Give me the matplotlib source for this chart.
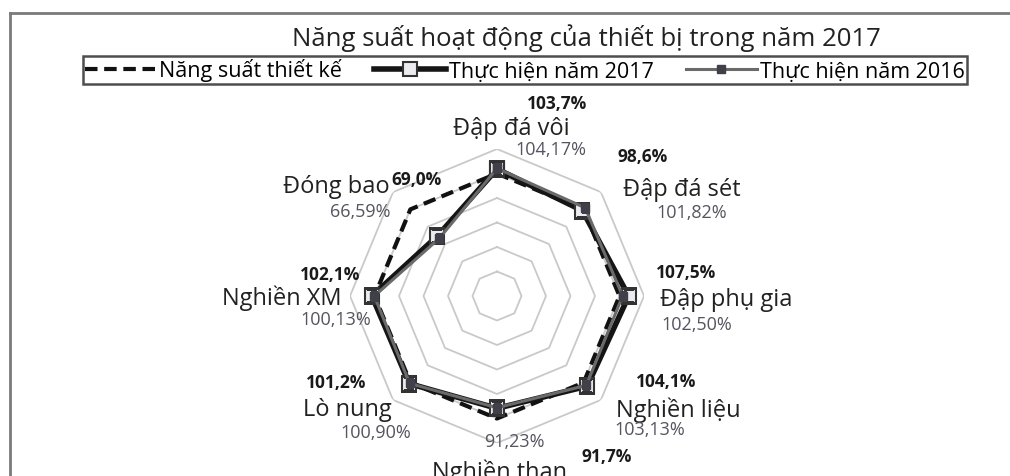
import numpy as np
import matplotlib
matplotlib.use("Agg")
from matplotlib import pyplot as plt
from matplotlib.lines import Line2D

plt.rcParams["font.family"] = ["Open Sans", "DejaVu Sans"]

W, H = 1010, 477

categories = ["Đập đá vôi", "Đập đá sét", "Đập phụ gia", "Nghiền liệu",
              "Nghiền than", "Lò nung", "Nghiền XM", "Đóng bao"]
design = [100, 100, 100, 100, 100, 100, 100, 100]
actual_2017 = [103.7, 98.6, 107.5, 104.1, 91.7, 101.2, 102.1, 69.0]
actual_2016 = [104.17, 101.82, 102.50, 103.13, 91.23, 100.90, 100.13, 66.59]
labels_2017 = ["103,7%", "98,6%", "107,5%", "104,1%", "91,7%", "101,2%", "102,1%", "69,0%"]
labels_2016 = ["104,17%", "101,82%", "102,50%", "103,13%", "91,23%", "100,90%", "100,13%", "66,59%"]
rings = [20, 40, 60, 80, 100, 120]

# label centres in pixels (category, 2017 value, 2016 value)
cat_pos = [(511, 129), (682, 190), (726, 300), (678, 410), (500, 472), (347, 410), (282, 298), (336, 187)]
v17_pos = [(557, 104), (643, 157), (686, 273), (666, 382), (607, 457), (336, 383), (330, 275), (416, 180)]
v16_pos = [(551, 150), (692, 213), (697, 325), (650, 430), (514, 442), (376, 433), (336, 320), (360, 212)]


def px(x, y):
    return x / W, 1 - y / H


fig = plt.figure(figsize=(W / 100, H / 100), dpi=100)

# chart border (cropped document chart)
fig.add_artist(Line2D([10 / W, 1.0], [1 - 14 / H] * 2, color="#7a7a7a", lw=2))
fig.add_artist(Line2D([10 / W] * 2, [0, 1 - 14 / H], color="#7a7a7a", lw=2))

cx, cy, R = 497, 297, 147
l, b = px(cx - R, cy + R)
ax = fig.add_axes([l, b, 2 * R / W, 2 * R / H], projection="polar")
ax.set_theta_zero_location("N")
ax.set_theta_direction(-1)
ax.set_ylim(0, 120)
ax.axis("off")

theta = np.linspace(0, 2 * np.pi, len(categories), endpoint=False)
tc = np.append(theta, theta[0])

for r in rings:
    ax.plot(tc, [r] * len(tc), color="#c9c9c9", lw=1.3, zorder=1)


def closed(v):
    return list(v) + [v[0]]


ax.plot(tc, closed(design), color="#111111", lw=3, ls=(0, (3, 1.6)), zorder=3)
ax.plot(tc, closed(actual_2017), color="#151515", lw=4, marker="s", ms=10,
        mfc="#ececf0", mec="#333333", mew=1.5, zorder=4)
ax.plot(tc, closed(actual_2016), color="#6a6a6a", lw=2.2, marker="s", ms=6,
        mfc="#404048", mec="#404048", zorder=5)

for i, name in enumerate(categories):
    fig.text(*px(*cat_pos[i]), name, ha="center", va="center", fontsize=17, color="#222222")
    fig.text(*px(*v17_pos[i]), labels_2017[i], ha="center", va="center", fontsize=12.5,
             fontweight="bold", color="#1a1a1a")
    fig.text(*px(*v16_pos[i]), labels_2016[i], ha="center", va="center", fontsize=13,
             color="#555560")

fig.text(*px(586, 38), "Năng suất hoạt động của thiết bị trong năm 2017",
         ha="center", va="center", fontsize=18.5, color="#222222")

handles = [
    Line2D([], [], color="#111111", lw=3, ls=(0, (3, 1.6))),
    Line2D([], [], color="#151515", lw=4, marker="s", ms=10, mfc="#ececf0",
           mec="#333333", mew=1.5),
    Line2D([], [], color="#6a6a6a", lw=2.2, marker="s", ms=6, mfc="#404048", mec="#404048"),
]
leg = fig.legend(handles, ["Năng suất thiết kế", "Thực hiện năm 2017", "Thực hiện năm 2016"],
                 loc="center", bbox_to_anchor=px(525, 71), ncol=3, fontsize=15.5,
                 frameon=True, fancybox=False, handlelength=3.3, handletextpad=0.15,
                 columnspacing=1.5, borderpad=0.1, borderaxespad=0)
leg.get_frame().set_edgecolor("#222222")
leg.get_frame().set_linewidth(1.8)

fig.savefig("out.png", dpi=100)
